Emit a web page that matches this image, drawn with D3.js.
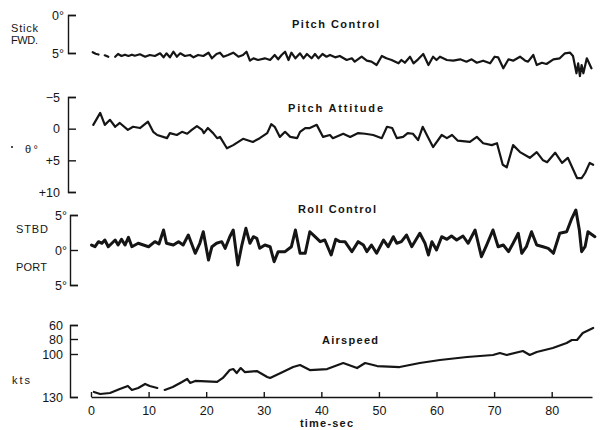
<!DOCTYPE html>
<html>
<head>
<meta charset="utf-8">
<script src="https://cdn.jsdelivr.net/npm/d3@7"></script>
<style>
body { margin: 0; background: #fff; }
svg text { font-family: "Liberation Sans", Arial, sans-serif; fill: #151515; }
.title { font-size: 11px; font-weight: bold; }
.side { font-size: 11px; }
.tick text { font-size: 12.5px; }
.axis path, .axis line { stroke: #151515; stroke-width: 1.4px; }
.trace { fill: none; stroke: #151515; stroke-linejoin: round; stroke-linecap: round; }
</style>
</head>
<body>
<svg id="chart" width="602" height="430"></svg>
<script>
//Data: [time (sec), value]
var pitchControl = [
	[0.3,4.9],[0.8,5.1],[1.3,5.2],[1.6,null],[2.4,5.3],[3.0,5.5],[3.3,null],
	[4.2,5.49],[4.7,5.13],[5.3,5.39],[5.9,5.22],[6.5,5.39],[7.1,5.22],[7.6,5.36],[8.5,5.17],
	[9.4,5.49],[10.2,5.26],[11.1,5.39],[12.0,5.04],[12.6,5.57],[13.1,5.04],[13.7,5.57],[14.3,4.83],
	[14.9,5.49],[15.5,5.04],[16.3,5.39],[17.2,5.26],[17.8,5.57],[18.6,5.26],[19.5,5.39],[20.4,4.96],
	[21.0,5.70],[21.8,5.13],[22.4,4.96],[23.0,5.49],[23.8,5.26],[24.7,4.96],[25.6,5.49],[26.4,5.26],
	[27.0,4.83],[27.6,6.01],[28.2,5.70],[29.0,5.92],[30.2,5.70],[31.1,5.92],[31.9,5.26],[32.5,5.83],
	[33.1,5.26],[33.7,4.83],[34.3,5.92],[34.8,4.96],[35.5,5.70],[36.3,5.04],[36.9,5.70],[37.5,5.13],
	[38.3,5.70],[38.9,5.13],[39.5,5.70],[40.2,5.13],[40.9,5.49],[41.5,5.26],[42.4,5.57],[43.2,5.39],
	[44.4,5.92],[45.3,5.70],[45.8,6.14],[47.0,5.49],[47.9,6.01],[48.7,6.14],[49.6,6.58],[50.5,5.39],
	[51.3,5.70],[52.2,5.92],[53.4,6.36],[53.9,5.92],[54.5,6.28],[55.4,5.49],[56.0,6.36],[56.8,5.83],
	[57.7,5.13],[58.6,6.58],[59.4,5.49],[60.0,5.92],[60.6,5.49],[61.8,5.92],[62.9,6.01],[64.1,5.83],
	[65.2,6.14],[66.1,5.83],[67.0,6.28],[68.1,6.01],[69.3,6.36],[70.1,5.49],[70.7,5.57],[71.6,7.01],
	[72.5,5.83],[73.3,6.01],[74.5,5.49],[75.4,6.01],[75.9,6.14],[76.8,5.26],[77.4,6.58],[78.3,6.28],
	[79.1,6.45],[80.3,5.83],[81.4,5.70],[82.3,5.04],[83.2,4.96],[83.7,5.39],[84.3,7.67],[84.6,6.36],
	[84.9,8.03],[85.2,6.58],[85.5,7.67],[86.1,5.70],[86.9,7.01]
];
var pitchAttitude = [
	[0.4,-0.6],[1.6,-2.5],[2.4,-0.6],[3.3,-1.4],[4.2,-0.3],[5.0,-0.9],[6.4,0.2],[7.3,-0.3],[8.5,-0.1],
	[9.9,-1.1],[10.8,0.5],[11.5,1.0],[13.2,1.5],[13.7,0.7],[14.9,1.0],[15.8,0.5],[16.7,0.8],[17.5,0.2],
	[18.4,-0.4],[19.3,0.2],[19.6,0.7],[20.3,-0.1],[21.2,0.7],[21.9,1.5],[22.4,1.3],[23.6,3.1],[24.7,2.6],
	[26.4,1.6],[28.1,2.1],[29.3,1.5],[30.6,0.7],[31.3,-0.7],[31.9,-0.3],[32.8,1.3],[33.7,0.5],[34.6,1.3],
	[35.8,1.5],[36.3,0.5],[37.2,-0.1],[38.0,-0.1],[39.2,-0.6],[40.3,1.3],[41.5,1.0],[42.0,1.5],[43.8,0.8],
	[45.0,1.3],[46.4,0.7],[47.6,0.8],[49.0,1.0],[50.5,1.5],[51.4,-0.3],[52.3,-0.1],[53.1,1.5],[54.2,1.3],
	[55.0,0.7],[55.9,0.8],[56.8,1.8],[57.6,-0.3],[58.5,1.3],[59.4,2.9],[60.9,1.0],[61.8,1.5],[62.7,1.0],
	[63.7,1.9],[65.8,2.1],[67.0,1.3],[68.1,2.3],[69.6,2.6],[70.5,2.3],[71.5,5.7],[72.2,6.1],[73.3,2.6],
	[74.5,3.7],[76.2,4.6],[77.4,3.7],[78.5,5.0],[79.2,5.3],[80.6,3.8],[81.8,5.4],[82.8,4.6],[84.4,7.8],
	[85.2,7.8],[85.8,7.0],[86.6,5.4],[87.2,5.7]
];
var rollControl = [
	[0.1,0.71],[0.7,0.47],[1.3,1.19],[1.9,0.96],[2.4,1.43],[3.0,0.47],[4.2,1.43],[4.7,0.71],[5.3,1.53],
	[5.9,0.71],[6.5,1.81],[7.1,0.47],[8.2,0.96],[9.1,0.71],[10.0,0.47],[11.1,1.19],[11.8,0.86],[12.6,2.86],
	[13.1,0.96],[14.3,0.71],[15.2,1.19],[16.0,0.71],[16.9,2.14],[18.1,-0.47],[18.9,0.96],[19.5,2.61],
	[20.4,-1.43],[21.0,0.47],[21.8,0.96],[22.7,1.19],[23.3,0.24],[24.1,1.9],[24.7,2.86],[25.5,-2.14],
	[26.2,0.71],[26.9,3.1],[27.6,0.96],[28.2,1.9],[28.8,1.67],[29.3,0.24],[30.2,0.71],[31.1,0.47],
	[31.8,-1.67],[32.5,-0.24],[33.7,-0.24],[34.8,0.47],[35.5,2.86],[36.3,-0.47],[37.2,-0.47],[38.0,2.61],
	[38.9,1.9],[39.8,1.19],[40.6,1.43],[41.7,-0.71],[42.5,1.53],[43.2,1.2],[44.1,1.19],[45.3,-0.24],
	[46.4,1.19],[47.3,0.71],[47.9,-0.24],[48.7,0.71],[49.6,-0.47],[50.8,1.43],[51.6,0.47],[52.5,1.9],
	[53.1,0.96],[53.9,1.19],[54.8,2.14],[55.7,0.47],[57.1,2.39],[58.0,0.96],[58.6,-0.71],[59.2,1.19],
	[60.0,0.0],[60.9,1.9],[61.8,1.53],[62.6,2.0],[63.5,1.43],[64.6,2.0],[65.5,0.96],[66.7,2.86],
	[67.8,-0.96],[68.7,0.71],[69.8,2.86],[70.7,0.47],[71.6,0.71],[72.5,-0.24],[73.3,0.96],[74.2,2.39],
	[74.8,-0.47],[75.6,0.47],[76.5,2.61],[77.4,0.71],[78.5,0.47],[79.4,0.24],[80.3,-0.47],[81.4,2.39],
	[82.6,2.61],[83.5,4.53],[84.2,5.71],[84.8,2.86],[85.2,-0.24],[85.8,0.47],[86.3,2.61],[87.5,1.9]
];
var airspeed = [
	[0.5,126.5],[1.6,127.9],[3.3,127.2],[5.0,124.4],[6.4,122.3],[7.1,125.1],[8.2,123.7],[9.4,120.9],
	[10.2,122.3],[11.5,123.7],[12.1,null],[12.8,125.1],[14.2,123.0],[15.8,119.5],[16.7,117.4],[17.2,120.2],
	[18.1,118.8],[21.9,119.5],[22.9,116.7],[24.1,111.2],[24.7,110.5],[25.3,113.3],[26.0,109.8],[26.7,112.6],
	[28.8,111.9],[30.6,116.0],[31.1,116.7],[33.3,112.6],[35.1,109.1],[36.3,107.7],[38.0,111.2],[41.0,110.5],
	[43.8,106.3],[46.2,109.8],[47.6,106.3],[49.7,108.4],[53.6,109.1],[57.1,106.3],[60.6,104.2],[65.3,102.1],
	[69.8,100.7],[71.0,98.7],[72.2,100.7],[75.0,96.0],[76.2,100.7],[77.4,97.3],[80.2,92.0],[82.6,85.3],
	[83.5,81.3],[84.4,81.3],[85.4,71.4],[87.2,64.3]
];

//Tick values and labels
var timeTicks = [0, 10, 20, 30, 40, 50, 60, 70, 80];
var pitchControlTicks = [0, 5];
var pitchControlLabels = ["0°", "5°"];
var pitchAttitudeTicks = [-5, 0, 5, 10];
var pitchAttitudeLabels = ["\u22125", "0", "+5", "+10"];
var rollTicks = [5, 0, -5];
var rollLabels = ["5°", "0°", "5°"];
var airspeedTicks = [60, 80, 100, 130];
var airspeedLabels = ["60", "80", "100", "130"];

var svg = d3.select("#chart");

var x = d3.scaleLinear().domain([0, 87]).range([91, 592]);

var yPitchControl = d3.scaleLinear().domain([0, 5]).range([15, 53]);
var yPitchAttitude = d3.scaleLinear().domain([-5, 10]).range([97, 192]);
var yRoll = d3.scaleLinear().domain([-5, 5]).range([285, 215]);
var yAirspeed = d3.scaleLinear().domain([60, 80, 100, 130]).range([325, 339, 354, 397]);

function bracket(scale, ticks, labels, xPos, pad) {
	var axis = d3.axisLeft(scale)
		.tickValues(ticks)
		.tickSize(-8)
		.tickPadding(pad)
		.tickFormat(function(d, i) { return labels[i]; });
	svg.append("g")
		.attr("class", "axis")
		.attr("transform", "translate(" + xPos + ",0)")
		.call(axis)
		.call(function(g) { g.selectAll("text").attr("font-family", null).attr("font-size", null); });
}

bracket(yPitchControl, pitchControlTicks, pitchControlLabels, 68, 4);
bracket(yPitchAttitude, pitchAttitudeTicks, pitchAttitudeLabels, 68, 8);
bracket(yRoll, rollTicks, rollLabels, 70, 3);
bracket(yAirspeed, airspeedTicks, airspeedLabels, 70, 7);

// time axis, ticks pointing up
svg.append("g")
	.attr("class", "axis")
	.attr("transform", "translate(0,397)")
	.call(d3.axisBottom(x)
		.tickValues(timeTicks)
		.tickSizeInner(-5)
		.tickSizeOuter(0)
		.tickPadding(9))
	.call(function(g) { g.selectAll("text").attr("font-family", null).attr("font-size", null); });

function trace(data, y, width) {
	var line = d3.line()
		.defined(function(d) { return d[1] != null; })
		.x(function(d) { return x(d[0]); })
		.y(function(d) { return y(d[1]); });
	svg.append("path")
		.datum(data)
		.attr("class", "trace")
		.attr("stroke-width", width)
		.attr("d", line);
}

trace(pitchControl, yPitchControl, 2.2);
trace(pitchAttitude, yPitchAttitude, 2.2);
trace(rollControl, yRoll, 3);
trace(airspeed, yAirspeed, 2.2);

// panel titles
var titles = [
	{text: "Pitch Control", x: 292, y: 28, w: 87},
	{text: "Pitch Attitude", x: 288, y: 112, w: 95},
	{text: "Roll Control", x: 298, y: 213, w: 78},
	{text: "Airspeed", x: 322, y: 344, w: 56},
	{text: "time-sec", x: 300, y: 427, w: 53}
];
svg.selectAll(".title")
	.data(titles)
	.enter().append("text")
	.attr("class", "title")
	.attr("x", function(d) { return d.x; })
	.attr("y", function(d) { return d.y; })
	.attr("textLength", function(d) { return d.w; })
	.attr("lengthAdjust", "spacing")
	.text(function(d) { return d.text; });

// side labels
var sideLabels = [
	{text: "Stick", x: 11, y: 32, w: 27},
	{text: "FWD.", x: 11, y: 44, w: 27},
	{text: "θ°", x: 25, y: 153, w: 13},
	{text: "STBD", x: 16, y: 233, w: 32},
	{text: "PORT", x: 16, y: 271, w: 31},
	{text: "kts", x: 12, y: 384, w: 18}
];
svg.selectAll(".side")
	.data(sideLabels)
	.enter().append("text")
	.attr("class", "side")
	.attr("x", function(d) { return d.x; })
	.attr("y", function(d) { return d.y; })
	.attr("textLength", function(d) { return d.w; })
	.attr("lengthAdjust", "spacing")
	.text(function(d) { return d.text; });

svg.append("circle").attr("cx", 12).attr("cy", 147).attr("r", 1).attr("fill", "#151515");
</script>
</body>
</html>
